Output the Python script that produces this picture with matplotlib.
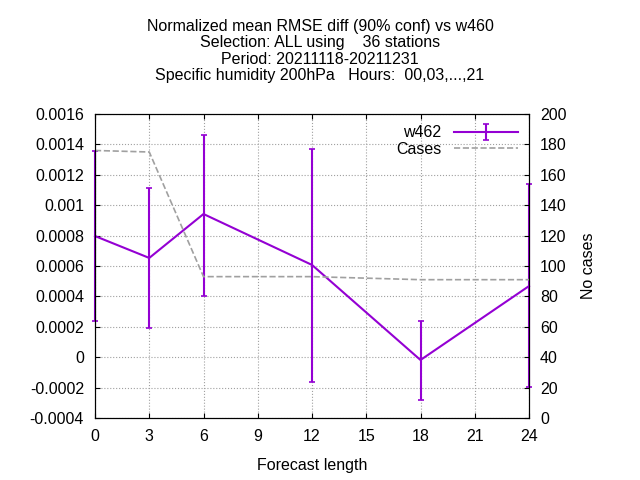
import matplotlib
matplotlib.use("Agg")
import matplotlib.pyplot as plt
import numpy as np

x = [0, 3, 6, 12, 18, 24]
mean = [0.000797, 0.000653, 0.000942, 0.000607, -0.0000184, 0.000468]
upper = [0.001357, 0.001113, 0.00146, 0.00137, 0.000238, 0.00114]
lower = [0.000238, 0.000192, 0.000403, -0.000163, -0.000282, -0.000196]
cases_x = [0, 3, 6, 12, 15, 18, 24]
cases = [176, 175, 93, 93, 92, 91, 91]
xticks = [0, 3, 6, 9, 12, 15, 18, 21, 24]

plt.rcParams['font.family'] = ['Liberation Sans', 'DejaVu Sans']
fig = plt.figure(figsize=(6.4, 4.8), dpi=100)
ax = fig.add_axes([95/640, 1-418/480, (529-95)/640, (418-114)/480])
m = np.array(mean)
yerr = [m - np.array(lower), np.array(upper) - m]
eb = ax.errorbar(x, mean, yerr=yerr, color='#9400d3', lw=1.5, capsize=2.5, capthick=1.2, label='w462')
for a in eb.lines[1] + eb.lines[2]:
    a.set_clip_on(False)
eb.lines[0].set_clip_on(False)
ax.set_xlim(0, 24)
ax.set_ylim(-0.0004, 0.0016)
ax.set_xticks(xticks)
ax.set_yticks(np.arange(-0.0004, 0.00161, 0.0002))
ax.set_yticklabels(['-0.0004', '-0.0002', '0', '0.0002', '0.0004', '0.0006', '0.0008', '0.001', '0.0012', '0.0014', '0.0016'])
ax.grid(True, color='#a0a0a0', ls=':', lw=0.8)
ax.tick_params(direction='in', labelsize=11.5, top=True, pad=8)
ax.set_xlabel('Forecast length', fontsize=11.5, labelpad=10)
ax2 = ax.twinx()
ln, = ax2.plot(cases_x, cases, color='#a0a0a0', ls='--', lw=1.2, label='Cases')
ax2.set_ylim(0, 200)
ax2.set_yticks(range(0, 201, 20))
ax2.tick_params(direction='in', labelsize=11.5, pad=8)
ax2.set_ylabel('No cases', fontsize=11.5, labelpad=10)
ax2.legend([eb, ln], ['w462', 'Cases'], loc='upper right', frameon=False, fontsize=11.5,
           markerfirst=False, handlelength=4, borderaxespad=0.3, labelspacing=0.1)
fig.suptitle('Normalized mean RMSE diff (90% conf) vs w460\nSelection: ALL using    36 stations\nPeriod: 20211118-20211231\nSpecific humidity 200hPa   Hours:  00,03,...,21',
             fontsize=11.5, y=0.96, linespacing=1.1)
fig.savefig('out.png')
